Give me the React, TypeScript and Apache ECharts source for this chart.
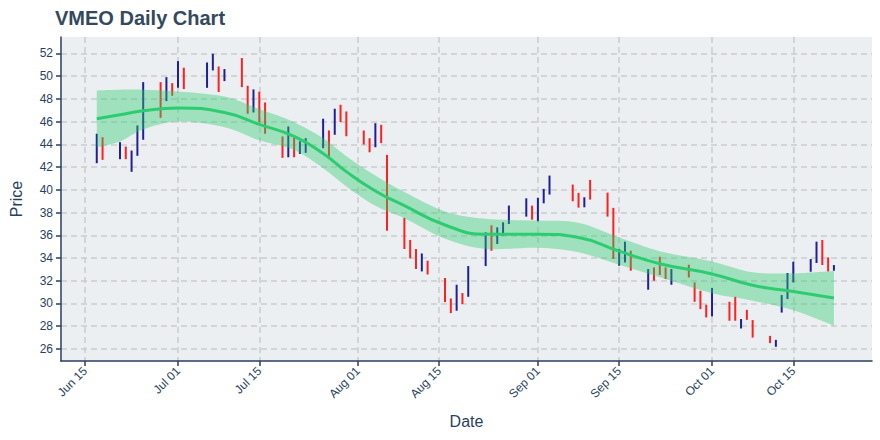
import React, { useEffect, useRef } from "react";
import * as echarts from "echarts";

const tradeDates = [
  "2021-06-17","2021-06-18","2021-06-21","2021-06-22","2021-06-23","2021-06-24","2021-06-25","2021-06-28","2021-06-29","2021-06-30",
  "2021-07-01","2021-07-02","2021-07-06","2021-07-07","2021-07-08","2021-07-09","2021-07-12","2021-07-13","2021-07-14","2021-07-15",
  "2021-07-16","2021-07-19","2021-07-20","2021-07-21","2021-07-22","2021-07-23","2021-07-26","2021-07-27","2021-07-28","2021-07-29",
  "2021-07-30","2021-08-02","2021-08-03","2021-08-04","2021-08-05","2021-08-06","2021-08-09","2021-08-10","2021-08-11","2021-08-12",
  "2021-08-13","2021-08-16","2021-08-17","2021-08-18","2021-08-19","2021-08-20","2021-08-23","2021-08-24","2021-08-25","2021-08-26",
  "2021-08-27","2021-08-30","2021-08-31","2021-09-01","2021-09-02","2021-09-03","2021-09-07","2021-09-08","2021-09-09","2021-09-10",
  "2021-09-13","2021-09-14","2021-09-15","2021-09-16","2021-09-17","2021-09-20","2021-09-21","2021-09-22","2021-09-23","2021-09-24",
  "2021-09-27","2021-09-28","2021-09-29","2021-09-30","2021-10-01","2021-10-04","2021-10-05","2021-10-06","2021-10-07","2021-10-08",
  "2021-10-11","2021-10-12","2021-10-13","2021-10-14","2021-10-15","2021-10-18","2021-10-19","2021-10-20","2021-10-21","2021-10-22",
];

const highs = [
  44.93,44.63,44.19,43.80,43.45,45.66,49.47,49.47,49.91,49.38,
  51.32,50.74,51.20,51.97,50.85,50.62,51.59,49.15,48.83,48.63,
  47.68,44.69,45.57,44.57,44.27,44.54,46.25,45.22,47.13,47.48,
  46.89,45.22,44.54,45.86,45.72,43.07,37.53,35.59,34.79,34.40,
  33.76,32.24,30.44,31.65,30.92,33.29,36.26,36.88,36.70,37.14,
  38.61,39.25,38.61,39.29,40.08,41.25,40.46,39.73,39.34,40.87,
  39.75,38.41,34.79,35.44,34.64,33.03,33.17,34.11,33.17,33.03,
  33.41,31.85,31.12,29.89,31.36,30.15,30.59,28.63,29.44,28.54,
  27.15,26.80,30.74,32.68,33.67,33.91,35.44,35.59,34.05,33.38,
];

const lows = [
  42.34,42.63,42.69,42.69,41.58,42.99,44.40,46.33,47.80,48.27,
  48.98,48.86,48.97,50.50,48.60,49.56,49.03,46.69,46.80,45.92,
  44.93,42.81,42.86,42.86,43.16,43.25,43.66,42.78,44.84,45.95,
  44.71,43.98,43.30,43.74,44.10,36.40,34.79,33.96,33.03,32.82,
  32.55,30.12,29.15,29.36,29.95,30.59,33.29,34.64,35.23,35.96,
  36.99,37.64,37.37,37.23,38.81,39.58,38.99,38.43,38.46,39.14,
  37.64,33.91,33.32,33.61,32.88,31.21,32.00,32.50,32.15,31.65,
  32.29,30.15,29.50,28.77,28.86,28.48,28.48,27.80,28.56,27.00,
  26.51,26.19,29.20,30.39,31.85,32.79,33.56,33.38,32.82,32.88,
];

// 1 = closed higher than it opened (blue), 0 = closed lower (red)
const rising = [
  1,0,1,0,1,1,1,0,1,0,
  1,0,1,1,0,1,0,0,1,0,
  0,0,1,0,1,1,1,0,1,0,
  0,0,0,1,0,0,0,0,0,1,
  0,0,0,1,0,1,1,0,1,1,
  1,1,0,1,1,1,0,0,1,0,
  0,0,1,1,0,1,0,0,0,1,
  0,0,0,0,1,0,0,1,0,0,
  0,1,1,1,1,1,1,0,0,1,
];

const fitDates = [
  "2021-06-17","2021-06-21","2021-06-25","2021-07-01","2021-07-09","2021-07-15","2021-07-21","2021-07-26",
  "2021-07-30","2021-08-04","2021-08-09","2021-08-16","2021-08-23","2021-09-01","2021-09-08","2021-09-15",
  "2021-09-22","2021-10-01","2021-10-08","2021-10-15","2021-10-22",
];
const fitMid = [
  46.25,46.6,46.95,47.2,46.8,45.75,44.7,43.2,
  41.6,39.9,38.6,36.9,36.1,36.1,35.8,34.6,
  33.5,32.6,31.6,31.06,30.48,
];
const fitUpper = [
  48.74,48.8,48.8,48.65,48.2,47.1,45.95,44.55,
  42.95,41.25,39.8,38.1,37.45,37.3,37.1,35.8,
  34.6,33.7,32.75,32.65,32.85,
];
const fitLower = [
  43.74,44.25,45.3,46.0,45.5,44.35,43.5,41.9,
  40.3,38.6,37.5,35.7,34.8,34.9,34.5,33.4,
  32.3,30.9,30.25,29.4,28.05,
];

const tickDates = ["2021-06-15","2021-07-01","2021-07-15","2021-08-01","2021-08-15","2021-09-01","2021-09-15","2021-10-01","2021-10-15"];
const tickLabels = ["Jun 15","Jul 01","Jul 15","Aug 01","Aug 15","Sep 01","Sep 15","Oct 01","Oct 15"];
const priceTicks = [26,28,30,32,34,36,38,40,42,44,46,48,50,52];

const DAY = 86400000;
const ts = (d: string) => new Date(d + "T00:00:00Z").getTime();

const BLUE = "#1f1f99";
const RED = "#ff2020";
const GREEN = "#2ecc71";
const INK = "#2a3f5f";
const FONT = "Liberation Sans, Arial, sans-serif";

// Smooth path through pixel points (Catmull-Rom -> cubic Bezier)
function curve(pts: number[][], move: boolean): string {
  let d = move ? `M${pts[0][0]},${pts[0][1]}` : `L${pts[0][0]},${pts[0][1]}`;
  for (let i = 0; i < pts.length - 1; i++) {
    const p0 = pts[Math.max(0, i - 1)];
    const p1 = pts[i];
    const p2 = pts[i + 1];
    const p3 = pts[Math.min(pts.length - 1, i + 2)];
    const c1x = p1[0] + (p2[0] - p0[0]) / 6;
    const c1y = p1[1] + (p2[1] - p0[1]) / 6;
    const c2x = p2[0] - (p3[0] - p1[0]) / 6;
    const c2y = p2[1] - (p3[1] - p1[1]) / 6;
    d += ` C${c1x},${c1y} ${c2x},${c2y} ${p2[0]},${p2[1]}`;
  }
  return d;
}

export default function App() {
  const ref = useRef<HTMLDivElement>(null);

  useEffect(() => {
    document.body.style.margin = "0";
    if (!ref.current) return;
    const chart = echarts.init(ref.current, undefined, { renderer: "svg" });
    const tickTs = tickDates.map(ts);
    const xMin = ts("2021-06-15") - 4.16 * DAY;
    const xMax = ts("2021-10-15") + 13.56 * DAY;

    const barData = tradeDates.map((d, i) => [ts(d), lows[i], highs[i], rising[i]]);
    const bandData = fitDates.map((d, i) => [ts(d), fitLower[i], fitUpper[i]]);
    const midData = fitDates.map((d, i) => [ts(d), fitMid[i]]);

    const grid = { color: "#c9cccf", type: [6, 4] as any, width: 1.5 };

    chart.setOption({
      animation: false,
      backgroundColor: "#ffffff",
      textStyle: { fontFamily: FONT },
      title: {
        text: "VMEO Daily Chart",
        left: 50,
        top: 3,
        textStyle: { fontSize: 20, fontWeight: "bold", color: "#34495e", fontFamily: FONT },
      },
      grid: {
        left: 55,
        right: 8,
        top: 37,
        bottom: 79,
        show: true,
        backgroundColor: "#eceff1",
        borderWidth: 0,
        containLabel: false,
      },
      xAxis: {
        type: "value",
        min: xMin,
        max: xMax,
        name: "Date",
        nameLocation: "middle",
        nameGap: 52,
        nameTextStyle: { fontSize: 16, color: INK, fontFamily: FONT },
        axisLine: { show: true, onZero: false, lineStyle: { color: INK, width: 1.5 } },
        axisTick: { show: true, customValues: tickTs, length: 5, lineStyle: { color: INK, width: 1.5 } },
        axisLabel: {
          customValues: tickTs,
          rotate: 45,
          margin: 8,
          fontSize: 12,
          color: INK,
          fontFamily: FONT,
          formatter: (v: number) => {
            const k = tickTs.indexOf(v);
            return k >= 0 ? tickLabels[k] : "";
          },
        },
        splitLine: { show: true, lineStyle: grid },
      },
      yAxis: {
        type: "value",
        min: 24.94,
        max: 53.44,
        name: "Price",
        nameLocation: "middle",
        nameGap: 37,
        nameTextStyle: { fontSize: 16, color: INK, fontFamily: FONT },
        axisLine: { show: true, onZero: false, lineStyle: { color: INK, width: 1.5 } },
        axisTick: { show: true, customValues: priceTicks, length: 5, lineStyle: { color: INK, width: 1.5 } },
        axisLabel: { customValues: priceTicks, margin: 8, fontSize: 12, color: INK, fontFamily: FONT },
        splitLine: { show: true, lineStyle: grid },
      },
      series: [
        {
          type: "custom",
          z: 2,
          encode: { x: 0, y: [1, 2] },
          data: barData,
          renderItem: (_p: any, api: any) => {
            const x = api.value(0);
            const a = api.coord([x, api.value(1)]);
            const b = api.coord([x, api.value(2)]);
            return {
              type: "line",
              shape: { x1: a[0], y1: a[1], x2: b[0], y2: b[1] },
              style: { stroke: api.value(3) === 1 ? BLUE : RED, lineWidth: 2 },
            };
          },
        },
        {
          type: "custom",
          z: 3,
          encode: { x: 0, y: [1, 2] },
          data: bandData,
          renderItem: (p: any, api: any) => {
            if (p.dataIndex !== 0) return null;
            const up = bandData.map((r) => api.coord([r[0], r[2]]));
            const lo = bandData.map((r) => api.coord([r[0], r[1]])).reverse();
            const d = curve(up, true) + " " + curve(lo, false) + " Z";
            return {
              type: "path",
              shape: { pathData: d },
              style: { fill: "rgba(46,204,113,0.4)", stroke: "none" },
            };
          },
        },
        {
          type: "line",
          z: 4,
          data: midData,
          smooth: 0.5,
          symbol: "none",
          lineStyle: { color: GREEN, width: 3 },
        },
      ],
    });
    return () => chart.dispose();
  }, []);

  return <div ref={ref} style={{ width: 880, height: 440 }} />;
}
